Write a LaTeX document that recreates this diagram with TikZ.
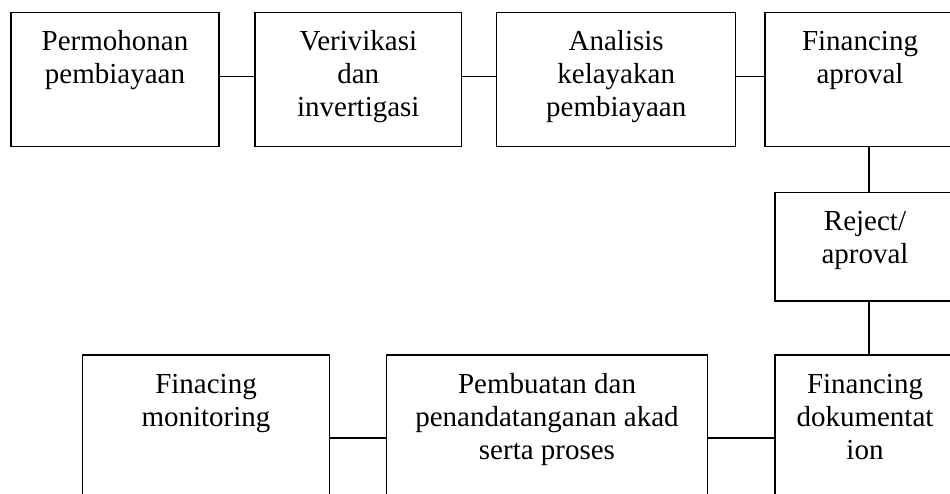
\documentclass[tikz,border=0pt]{standalone}
\usepackage{fontspec}
\setmainfont{Liberation Serif}
\newfontfamily\stagefont{Liberation Serif}
\usetikzlibrary{calc}

\begin{document}
\begin{tikzpicture}[x=1pt,y=1pt,
    stagebox/.style={draw=black, line width=1.5pt, inner sep=0pt},
    stagetext/.style={anchor=base, inner sep=0pt,
      font=\stagefont\fontsize{29}{33}\selectfont},
    link/.style={draw=black, line width=1.5pt}]

    \useasboundingbox (0,0) rectangle (950,494);
    \clip (0,0) rectangle (950,494);

    % top row
    \node[stagebox, minimum width=208pt, minimum height=134pt] (permohonan) at (115,414.3) {};
    \node[stagebox, minimum width=206.7pt, minimum height=134pt] (verifikasi) at (358.3,414.3) {};
    \node[stagebox, minimum width=239pt, minimum height=134pt] (analisis) at (616.2,414.3) {};
    \node[stagebox, minimum width=190pt, minimum height=134pt] (approval) at (860,414.3) {};

    % right column
    \node[stagebox, minimum width=180pt, minimum height=108.3pt] (reject) at (865,247.2) {};

    % bottom row
    \node[stagebox, minimum width=180pt, minimum height=166pt] (dokumentasi) at (865,56) {};
    \node[stagebox, minimum width=320.6pt, minimum height=166pt] (akad) at (547,56) {};
    \node[stagebox, minimum width=246.6pt, minimum height=166pt] (monitoring) at (206,56) {};

    \foreach \n/\txt in {permohonan/{Permohonan\\pembiayaan},
        verifikasi/{Verivikasi\\dan\\invertigasi},
        analisis/{Analisis\\kelayakan\\pembiayaan},
        approval/{Financing\\aproval},
        reject/{Reject/\\aproval},
        dokumentasi/{Financing\\dokumentat\\ion},
        akad/{Pembuatan dan\\penandatanganan akad\\serta proses},
        monitoring/{Finacing\\monitoring}} {
      \node[stagetext] (\n-label) at ($ (\n.north) + (0,-39) $)
        {\begin{tabular}[t]{@{}c@{}}\txt\end{tabular}};
    }

    % connectors
    \coordinate (vlink) at (869,0);
    \draw[link] ([yshift=3pt]permohonan.east) -- ([yshift=3pt]verifikasi.west);
    \draw[link] ([yshift=3pt]verifikasi.east) -- ([yshift=3pt]analisis.west);
    \draw[link] ([yshift=3pt]analisis.east) -- ([yshift=3pt]approval.west);
    \draw[link] (approval.south -| vlink) -- (reject.north -| vlink);
    \draw[link] (reject.south -| vlink) -- (dokumentasi.north -| vlink);
    \draw[link] (dokumentasi) -- (akad);
    \draw[link] (akad) -- (monitoring);

  \end{tikzpicture}
\end{document}
